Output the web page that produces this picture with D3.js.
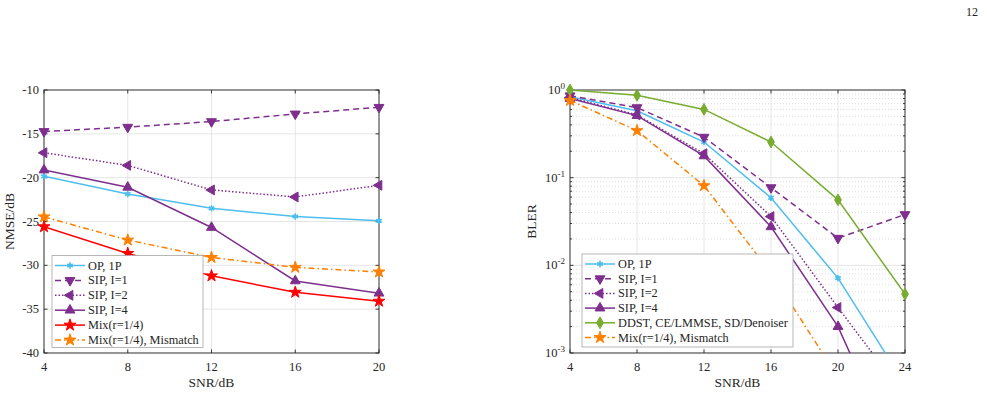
<!DOCTYPE html>
<html>
<head>
<meta charset="utf-8">
<script src="https://cdn.jsdelivr.net/npm/d3@7"></script>
<style>
  body { margin: 0; background: #fff; }
</style>
</head>
<body>
<script>
// ---- data ----
const snrLeft = [4, 8, 12, 16, 20];
const nmseOP = [-19.85, -21.86, -23.5, -24.43, -24.92];
const nmseSIP1 = [-14.73, -14.24, -13.6, -12.73, -11.97];
const nmseSIP2 = [-17.16, -18.6, -21.4, -22.2, -20.87];
const nmseSIP4 = [-19.13, -21.1, -25.68, -31.78, -33.18];
const nmseMix = [-25.6, -28.64, -31.2, -33.07, -34.09];
const nmseMismatch = [-24.47, -27.12, -29.1, -30.23, -30.76];

const snrRight = [4, 8, 12, 16, 20, 24];
const blerOP = [0.84, 0.58, 0.255, 0.059, 0.00715, 0.00044];
const blerSIP1 = [0.86, 0.63, 0.29, 0.077, 0.0204, 0.038];
const blerSIP2 = [0.82, 0.52, 0.188, 0.036, 0.0033, 0.00032];
const blerSIP4 = [0.8, 0.51, 0.177, 0.0275, 0.002, 0.00004];
const blerDDST = [1.0, 0.87, 0.6, 0.255, 0.0558, 0.0047];
const blerMismatch = [0.76, 0.344, 0.081, 0.0082, 0.00053, null];

const leftTicksX = [4, 8, 12, 16, 20];
const leftTicksY = [-40, -35, -30, -25, -20, -15, -10];
const rightTicksX = [4, 8, 12, 16, 20, 24];
const rightTicksY = [1e-3, 1e-2, 1e-1, 1];
const rightTickLabels = ['-3', '-2', '-1', '0'];

// ---- styles ----
const C_OP = '#4DBEEE', C_SIP = '#7E2F8E', C_MIX = '#FF0000',
      C_MM = '#FF8000', C_DDST = '#77AC30';
const FONT = "'Liberation Serif', 'Times New Roman', Times, 'DejaVu Serif', serif";
const styles = {
  op:   { color: C_OP, dash: null, marker: 'asterisk', label: 'OP, 1P' },
  sip1: { color: C_SIP, dash: '6,4', marker: 'tdown', label: 'SIP, I=1' },
  sip2: { color: C_SIP, dash: '1.5,2', marker: 'tleft', label: 'SIP, I=2' },
  sip4: { color: C_SIP, dash: null, marker: 'tup', label: 'SIP, I=4' },
  mix:  { color: C_MIX, dash: null, marker: 'star', label: 'Mix(r=1/4)' },
  mm:   { color: C_MM, dash: '6,3,1.5,3', marker: 'star', label: 'Mix(r=1/4), Mismatch' },
  ddst: { color: C_DDST, dash: null, marker: 'diamond', label: 'DDST, CE/LMMSE, SD/Denoiser' }
};

const W = 987, H = 402;
const svg = d3.select('body').append('svg')
  .attr('width', W).attr('height', H).attr('viewBox', `0 0 ${W} ${H}`)
  .attr('font-family', FONT)
  .style('display', 'block');

svg.append('text').attr('x', 972).attr('y', 16).attr('text-anchor', 'middle')
  .attr('font-size', 12).attr('fill', '#222').text('12');

function drawMarker(g, type, color, x, y) {
  let sym, rot = 0, size = 42;
  if (type === 'asterisk') { sym = d3.symbolAsterisk; size = 28; }
  else if (type === 'tdown') { sym = d3.symbolTriangle; rot = 180; }
  else if (type === 'tleft') { sym = d3.symbolTriangle; rot = -90; }
  else if (type === 'tup') { sym = d3.symbolTriangle; }
  else if (type === 'star') { sym = d3.symbolStar; size = 44; }
  else { sym = d3.symbolDiamond; size = 40; }
  const p = g.append('path')
    .attr('d', d3.symbol(sym, size)())
    .attr('transform', `translate(${x},${y}) rotate(${rot})`);
  if (type === 'asterisk') {
    p.attr('fill', 'none').attr('stroke', color).attr('stroke-width', 1.6);
    g.append('circle').attr('cx', x).attr('cy', y).attr('r', 1.8).attr('fill', color);
  } else {
    p.attr('fill', color).attr('stroke', color).attr('stroke-width', 1);
  }
}

function drawPanel(cfg) {
  const { x, y, id } = cfg;
  const [x0, x1] = x.range();
  const [y1, y0] = y.range();
  const g = svg.append('g');

  g.append('clipPath').attr('id', id).append('rect')
    .attr('x', x0).attr('y', y0).attr('width', x1 - x0).attr('height', y1 - y0);

  // minor grid (log)
  if (cfg.minor) {
    g.append('g').selectAll('line').data(cfg.minor).join('line')
      .attr('x1', x0).attr('x2', x1).attr('y1', d => y(d)).attr('y2', d => y(d))
      .attr('stroke', '#d4d4d4').attr('stroke-width', 0.8).attr('stroke-dasharray', '1,2');
  }
  // major grid
  g.append('g').selectAll('line').data(cfg.ticksX).join('line')
    .attr('x1', d => x(d)).attr('x2', d => x(d)).attr('y1', y0).attr('y2', y1)
    .attr('stroke', '#e3e3e3').attr('stroke-width', 0.9);
  g.append('g').selectAll('line').data(cfg.ticksY).join('line')
    .attr('x1', x0).attr('x2', x1).attr('y1', d => y(d)).attr('y2', d => y(d))
    .attr('stroke', '#e3e3e3').attr('stroke-width', 0.9);

  // box and inward ticks
  const ax = g.append('g').attr('stroke', '#262626').attr('stroke-width', 0.9);
  ax.append('rect').attr('x', x0).attr('y', y0).attr('width', x1 - x0).attr('height', y1 - y0)
    .attr('fill', 'none');
  const tl = 3.5;
  cfg.ticksX.forEach(d => {
    ax.append('line').attr('x1', x(d)).attr('x2', x(d)).attr('y1', y1).attr('y2', y1 - tl);
    ax.append('line').attr('x1', x(d)).attr('x2', x(d)).attr('y1', y0).attr('y2', y0 + tl);
  });
  cfg.ticksY.forEach(d => {
    ax.append('line').attr('x1', x0).attr('x2', x0 + tl).attr('y1', y(d)).attr('y2', y(d));
    ax.append('line').attr('x1', x1).attr('x2', x1 - tl).attr('y1', y(d)).attr('y2', y(d));
  });
  (cfg.minor || []).forEach(d => {
    ax.append('line').attr('x1', x0).attr('x2', x0 + 2).attr('y1', y(d)).attr('y2', y(d));
    ax.append('line').attr('x1', x1).attr('x2', x1 - 2).attr('y1', y(d)).attr('y2', y(d));
  });

  // series: lines clipped to the box, markers only inside the value range
  const plot = g.append('g');
  const [dLo, dHi] = y.domain();
  cfg.series.forEach(s => {
    const st = styles[s.key];
    const pts = s.values.map((v, i) => [cfg.xs[i], v]).filter(d => d[1] != null);
    plot.append('path').datum(pts)
      .attr('clip-path', `url(#${id})`)
      .attr('d', d3.line().x(d => x(d[0])).y(d => y(d[1])))
      .attr('fill', 'none').attr('stroke', st.color).attr('stroke-width', 1.5)
      .attr('stroke-dasharray', st.dash);
    pts.filter(d => d[1] >= dLo && d[1] <= dHi)
      .forEach(d => drawMarker(plot, st.marker, st.color, x(d[0]), y(d[1])));
  });

  // tick labels
  const txt = g.append('g').attr('font-size', 12.5).attr('fill', '#262626');
  cfg.ticksX.forEach(d => {
    txt.append('text').attr('x', x(d)).attr('y', y1 + 18).attr('text-anchor', 'middle').text(d);
  });
  cfg.ticksY.forEach((d, i) => {
    const t = txt.append('text').attr('x', x0 - 5).attr('y', y(d) + 4).attr('text-anchor', 'end');
    if (cfg.supLabels) {
      t.append('tspan').text('10');
      t.append('tspan').attr('dy', -5).attr('font-size', 9).text(cfg.supLabels[i]);
    } else {
      t.text(d);
    }
  });

  // axis titles
  txt.append('text').attr('x', (x0 + x1) / 2).attr('y', y1 + 34).attr('text-anchor', 'middle')
    .attr('font-size', 13.5).text('SNR/dB');
  txt.append('text').attr('transform', `translate(${cfg.ylabX},${(y0 + y1) / 2}) rotate(-90)`)
    .attr('text-anchor', 'middle').attr('font-size', 13.5).text(cfg.ylab);

  // legend
  const L = cfg.legend;
  const lg = g.append('g');
  lg.append('rect').attr('x', L.x).attr('y', L.y).attr('width', L.w).attr('height', L.h)
    .attr('fill', '#fff').attr('stroke', '#a6a6a6').attr('stroke-width', 0.8);
  cfg.series.forEach((s, i) => {
    const st = styles[s.key];
    const ry = L.y + 10 + i * L.step;
    lg.append('line').attr('x1', L.x + 3).attr('x2', L.x + 33).attr('y1', ry).attr('y2', ry)
      .attr('stroke', st.color).attr('stroke-width', 1.5).attr('stroke-dasharray', st.dash);
    drawMarker(lg, st.marker, st.color, L.x + 18, ry);
    lg.append('text').attr('x', L.x + 36).attr('y', ry + 4).attr('font-size', 12.3)
      .attr('fill', '#262626').text(st.label);
  });
}

// left panel: NMSE
drawPanel({
  id: 'clipL',
  x: d3.scaleLinear().domain([4, 20]).range([44, 379]),
  y: d3.scaleLinear().domain([-40, -10]).range([353, 90]),
  xs: snrLeft,
  ticksX: leftTicksX,
  ticksY: leftTicksY,
  ylab: 'NMSE/dB', ylabX: 14,
  series: [
    { key: 'op', values: nmseOP },
    { key: 'sip1', values: nmseSIP1 },
    { key: 'sip2', values: nmseSIP2 },
    { key: 'sip4', values: nmseSIP4 },
    { key: 'mix', values: nmseMix },
    { key: 'mm', values: nmseMismatch }
  ],
  legend: { x: 52, y: 255.5, w: 151, h: 92, step: 14.9 }
});

// right panel: BLER
const minorR = [];
[1e-3, 1e-2, 1e-1].forEach(b => { for (let k = 2; k <= 9; k++) minorR.push(b * k); });
drawPanel({
  id: 'clipR',
  x: d3.scaleLinear().domain([4, 24]).range([570, 905]),
  y: d3.scaleLog().domain([1e-3, 1]).range([353, 90]),
  xs: snrRight,
  ticksX: rightTicksX,
  ticksY: rightTicksY,
  supLabels: rightTickLabels,
  minor: minorR,
  ylab: 'BLER', ylabX: 536,
  series: [
    { key: 'op', values: blerOP },
    { key: 'sip1', values: blerSIP1 },
    { key: 'sip2', values: blerSIP2 },
    { key: 'sip4', values: blerSIP4 },
    { key: 'ddst', values: blerDDST },
    { key: 'mm', values: blerMismatch }
  ],
  legend: { x: 582, y: 254, w: 211, h: 93, step: 14.7 }
});
</script>
</body>
</html>
